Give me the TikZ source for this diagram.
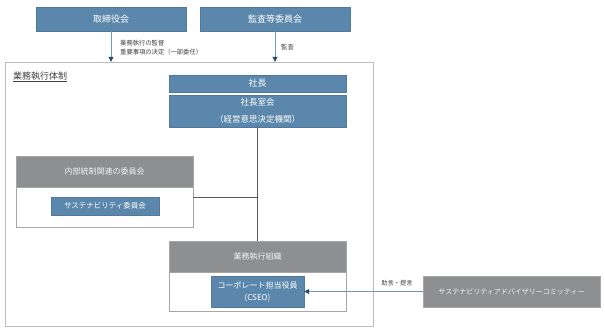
\documentclass[tikz,border=0pt]{standalone}
\usepackage{fontspec}
\setmainfont{Noto Sans CJK JP}
\usetikzlibrary{arrows.meta}
\definecolor{boxblue}{HTML}{5B87AC}
\definecolor{boxblueline}{HTML}{4F7A9E}
\definecolor{headgray}{HTML}{8E8F91}
\definecolor{bordergray}{HTML}{A6A6A6}
\definecolor{outergray}{HTML}{BDBDBD}
\definecolor{arrline}{HTML}{6C9BBE}
\definecolor{arrhead}{HTML}{1F4E6E}
\definecolor{txtdark}{HTML}{404040}
\begin{document}
\begin{tikzpicture}[x=1pt,y=-1pt,
  bluebox/.style={draw=boxblueline, fill=boxblue, text=white, inner sep=0pt, align=center},
  grayhead/.style={draw=bordergray, fill=headgray, text=white!95!black, inner sep=0pt, align=center},
  whitebody/.style={draw=bordergray, fill=white, inner sep=0pt},
  arr/.style={draw=arrline, line width=0.8pt, -{Triangle[length=5pt,width=5pt,color=arrhead]}},
  conn/.style={draw=black!65, line width=0.8pt},
  lbl/.style={text=txtdark, inner sep=0pt, font=\fontsize{6.3}{9}\selectfont}
]
\useasboundingbox (0,0) rectangle (605,329);
% top boxes
\node[bluebox, minimum width=150pt, minimum height=24pt, font=\fontsize{9}{11}\selectfont] (board) at (111,19) {取締役会};
\node[bluebox, minimum width=150pt, minimum height=24pt, font=\fontsize{9}{11}\selectfont] (audit) at (275,19) {監査等委員会};
% outer frame
\node[draw=outergray, fill=white, minimum width=368pt, minimum height=264pt, inner sep=0pt] (outer) at (189,194) {};
\node[anchor=west, text=txtdark, inner sep=0pt, font=\fontsize{9}{11}\selectfont] (title) at (13,77) {\underline{業務執行体制}};
% president
\node[bluebox, minimum width=177pt, minimum height=17pt, font=\fontsize{9}{11}\selectfont] (pres) at (257.5,83.5) {社長};
\node[bluebox, minimum width=177pt, minimum height=32pt, font=\fontsize{8.5}{17}\selectfont] (council) at (257.5,111) {社長室会\\（経営意思決定機関）};
% internal control committees
\node[whitebody, minimum width=177pt, minimum height=71pt] (icbody) at (104.5,191.5) {};
\node[grayhead, minimum width=177pt, minimum height=31pt, font=\fontsize{8}{10}\selectfont] (ichead) at (104.5,171.5) {内部統制関連の委員会};
\node[bluebox, minimum width=108pt, minimum height=18pt, font=\fontsize{7.5}{9}\selectfont] (sust) at (105,206) {サステナビリティ委員会};
% execution organisation
\node[whitebody, minimum width=177pt, minimum height=70pt] (exbody) at (257.5,276) {};
\node[grayhead, minimum width=177pt, minimum height=31pt, font=\fontsize{8}{10}\selectfont] (exhead) at (257.5,256.5) {業務執行組織};
\node[bluebox, minimum width=93pt, minimum height=31pt, font=\fontsize{8}{12}\selectfont] (cseo) at (257.5,291.5) {コーポレート担当役員\\(CSEO)};
% advisory committee
\node[grayhead, minimum width=177pt, minimum height=31pt, font=\fontsize{7}{9}\selectfont] (adv) at (511.5,291.5) {サステナビリティアドバイザリーコミッティー};
% connectors
\draw[arr] (board.south) -- (board.south |- outer.north);
\draw[arr] (audit.south) -- (audit.south |- outer.north);
\node[lbl, anchor=west, align=left] (lbl1) at (120,47.5) {業務執行の監督\\重要事項の決定（一部委任）};
\node[lbl, anchor=west] (lbl2) at (281,47) {監査};
\draw[conn] (council.south) -- (exhead.north);
\coordinate (icjoin) at ([yshift=-5.5pt]icbody.east);
\draw[conn] (icjoin) -- (council.south |- icjoin);
\draw[arr] (adv.west) -- (cseo.east);
\node[lbl] (lbl3) at (397,283) {助言・提言};
\end{tikzpicture}
\end{document}
